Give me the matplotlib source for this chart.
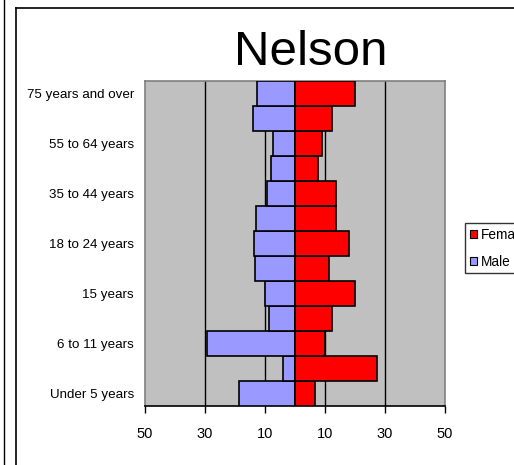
import matplotlib
matplotlib.use("Agg")
import matplotlib.pyplot as plt
from matplotlib.lines import Line2D
from matplotlib.patches import Patch

plt.rcParams['font.family'] = ['Liberation Sans', 'DejaVu Sans']

categories = ["Under 5 years", "5 years", "6 to 11 years", "12 to 14 years", "15 years",
              "16 to 17 years", "18 to 24 years", "25 to 34 years", "35 to 44 years",
              "45 to 54 years", "55 to 64 years", "65 to 74 years", "75 years and over"]
male = [18.8, 3.9, 29.4, 8.6, 9.9, 13.3, 13.8, 12.9, 9.4, 7.9, 7.4, 14.1, 12.6]
female = [6.7, 27.4, 10.1, 12.2, 20.0, 11.3, 18.0, 13.7, 13.7, 7.8, 9.0, 12.4, 20.0]
xticks = [-50, -30, -10, 10, 30, 50]
xticklabels = ["50", "30", "10", "10", "30", "50"]
title = "Nelson"

W, H = 514, 465
fig = plt.figure(figsize=(W / 100, H / 100), dpi=100)
ax = fig.add_axes([145 / W, (H - 406) / H, 300 / W, 325 / H])
ax.set_facecolor("#C0C0C0")

y = list(range(len(categories)))
ax.barh(y, [-m for m in male], height=1.0, color="#9999FF", edgecolor="black", linewidth=1.2, zorder=3)
ax.barh(y, female, height=1.0, color="#FF0000", edgecolor="black", linewidth=1.2, zorder=3)

for g in [-30, -10, 10, 30]:
    ax.axvline(g, color="black", linewidth=1.0, zorder=1)

ax.set_xlim(-50, 50)
ax.set_ylim(-0.5, len(categories) - 0.5)
ax.set_xticks(xticks)
ax.set_xticklabels(xticklabels, fontsize=10.5)
ax.set_yticks(y[::2])
ax.set_yticklabels(categories[::2], fontsize=9.6)
ax.tick_params(axis="x", direction="out", length=5, width=1, color="black", pad=10)
ax.tick_params(axis="y", length=0, pad=8)
for s in ["left", "right", "top"]:
    ax.spines[s].set_color("#808080")
    ax.spines[s].set_linewidth(1.2)
ax.spines["bottom"].set_color("black")
ax.spines["bottom"].set_linewidth(1.2)

fig.text(311 / W, (H - 65) / H, title, fontsize=35.5, ha="center", va="baseline")

handles = [Patch(facecolor="#FF0000", edgecolor="black", linewidth=0.8),
           Patch(facecolor="#9999FF", edgecolor="black", linewidth=0.8)]
leg = fig.legend(handles, ["Female", "Male"], loc="upper left",
                 bbox_to_anchor=(465 / W, (H - 223) / H), fontsize=9.8,
                 handlelength=0.55, handleheight=0.55, handletextpad=0.25,
                 labelspacing=0.95, borderpad=0.35, borderaxespad=0,
                 fancybox=False, frameon=True)
leg.get_frame().set_edgecolor("black")
leg.get_frame().set_linewidth(1.0)

# figure frame lines
fig.add_artist(Line2D([3.5 / W, 3.5 / W], [0, 1], color="black", linewidth=1.0))
fig.add_artist(Line2D([16 / W, 16 / W], [0, (H - 8) / H], color="black", linewidth=1.2))
fig.add_artist(Line2D([16 / W, 1], [(H - 8) / H, (H - 8) / H], color="black", linewidth=1.2))

fig.savefig("out.png", dpi=100)
